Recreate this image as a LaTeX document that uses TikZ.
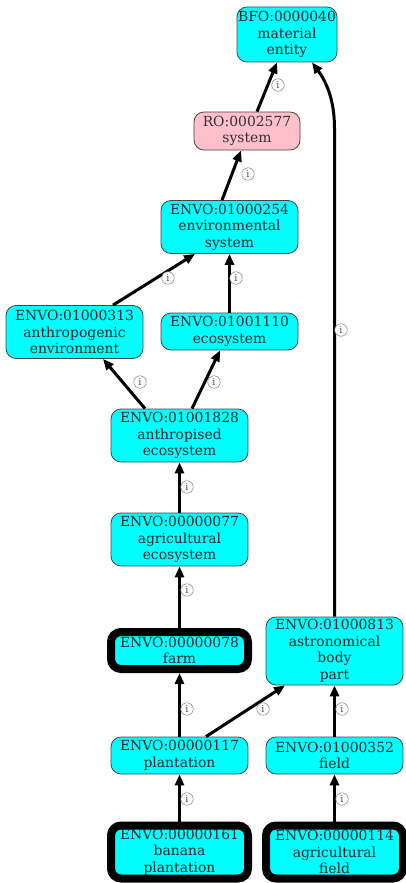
\documentclass[tikz,border=0pt]{standalone}
\usepackage{fontspec}
\setmainfont{DejaVu Serif}
\usetikzlibrary{arrows.meta}
\definecolor{pinkfill}{RGB}{255,192,203}
\definecolor{cyanfill}{RGB}{0,255,255}
\definecolor{bordergray}{RGB}{70,70,70}
\definecolor{textteal}{RGB}{0,40,40}
\begin{document}
\begin{tikzpicture}[x=1pt,y=-1pt,
  term/.style={draw=bordergray, line width=0.8pt, fill=cyanfill, rounded corners=10pt,
    minimum width=137pt, align=center, inner sep=0pt, text=textteal,
    font=\fontsize{13.9}{16.5}\selectfont},
  hb/.style={minimum height=37pt},
  hc/.style={minimum height=53pt},
  hd/.style={minimum height=68pt},
  leaf/.style={term, draw=black, line width=8pt},
  edge/.style={line width=3pt, -{Triangle[length=11pt,width=9pt]}},
  lbl/.style={circle, draw=black!50, fill=white, inner sep=0pt, minimum size=12.5pt,
    line width=0.5pt, text=black!70, font=\fontsize{9.5}{9.5}\selectfont}]
\useasboundingbox (0,0) rectangle (405,883);

% nodes
\node[term, minimum width=100pt, minimum height=55pt] (bfo) at (287,34.5) {BFO:0000040\\material\\entity};
\node[term, fill=pinkfill, text=black!80, minimum width=106pt, minimum height=38pt] (ro) at (247,131) {RO:0002577\\system};
\node[term, hc] (es) at (229.5,227) {ENVO:01000254\\environmental\\system};
\node[term, hc] (ae) at (74.5,332) {ENVO:01000313\\anthropogenic\\environment};
\node[term, hb] (eco) at (229.5,331.5) {ENVO:01001110\\ecosystem};
\node[term, hc] (ane) at (179.5,435.5) {ENVO:01001828\\anthropised\\ecosystem};
\node[term, hc] (age) at (179.5,539.5) {ENVO:00000077\\agricultural\\ecosystem};
\node[leaf, hb] (farm) at (179.5,650.5) {ENVO:00000078\\farm};
\node[term, hd] (abp) at (334.5,651) {ENVO:01000813\\astronomical\\body\\part};
\node[term, hb] (pl) at (179.5,755.5) {ENVO:00000117\\plantation};
\node[term, hb] (fi) at (334.5,755.5) {ENVO:01000352\\field};
\node[leaf, hc] (ban) at (179.5,852) {ENVO:00000161\\banana\\plantation};
\node[leaf, hc] (agf) at (334.5,852) {ENVO:00000114\\agricultural\\field};

% edges
\draw[edge] ([xshift=10pt]ro.north) -- ([xshift=-10pt]bfo.south);
\draw[edge] ([xshift=-7.5pt]es.north) -- ([xshift=-6pt]ro.south);
\draw[edge] ([xshift=38.5pt]ae.north) -- ([xshift=-34.5pt]es.south);
\draw[edge] (eco.north) -- (es.south);
\draw[edge] ([xshift=-34.5pt]ane.north) -- ([xshift=28.5pt]ae.south);
\draw[edge] ([xshift=12.5pt]ane.north) -- ([xshift=-9.5pt]eco.south);
\draw[edge] (age.north) -- (ane.south);
\draw[edge] (farm.north) -- (age.south);
\draw[edge] (pl.north) -- (farm.south);
\draw[edge] ([xshift=26.5pt]pl.north) -- ([xshift=-49.5pt]abp.south);
\draw[edge] (fi.north) -- (abp.south);
\draw[edge] (ban.north) -- (pl.south);
\draw[edge] (agf.north) -- (fi.south);
\coordinate (bend) at (334.5,128);
\draw[edge] (abp.north) -- (bend) .. controls (334.5,98) and (325,80) .. ([xshift=25pt]bfo.south);

% edge labels
\node[lbl] (l1) at (278,85) {i};
\node[lbl] (l2) at (248,174) {i};
\node[lbl] (l3) at (168,278) {i};
\node[lbl] (l4) at (236,278) {i};
\node[lbl] (l5) at (140,382) {i};
\node[lbl] (l6) at (214,382) {i};
\node[lbl] (l7) at (187,487) {i};
\node[lbl] (l8) at (187,590) {i};
\node[lbl] (l9) at (187,709) {i};
\node[lbl] (l10) at (263,709) {i};
\node[lbl] (l11) at (342,709) {i};
\node[lbl] (l12) at (187,799) {i};
\node[lbl] (l13) at (342,799) {i};
\node[lbl] (l14) at (341,330) {i};
\end{tikzpicture}
\end{document}
